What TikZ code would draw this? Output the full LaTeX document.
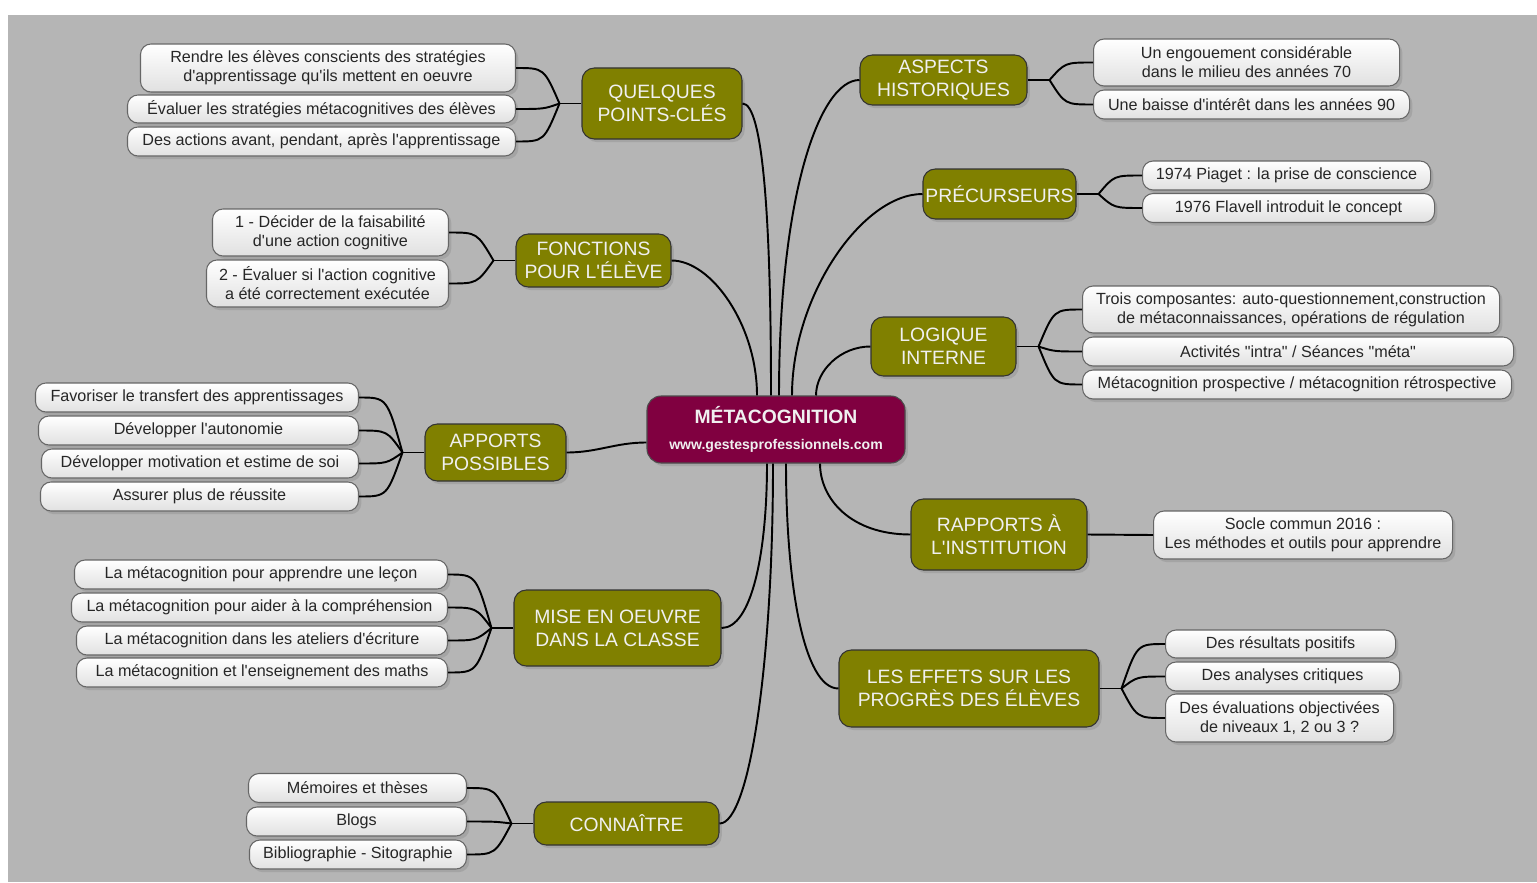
\documentclass[tikz,border=0pt]{standalone}
\usepackage{fontspec}
\setmainfont{Liberation Sans}[Ligatures=TeXOff]
\usetikzlibrary{shadows,calc}
\definecolor{olivebr}{RGB}{128,128,0}
\definecolor{metac}{RGB}{128,0,64}
\definecolor{fondgris}{RGB}{181,181,181}
\newcommand\pxu{0.02cm}
\tikzset{
	feuille/.style={draw=black!60, line width=.6pt, rounded corners=6pt, top color=white, bottom color=black!12, align=center, inner sep=1pt, text=black!85, font=\fontsize{9.2}{10.8}\selectfont, drop shadow={shadow xshift=1.6pt, shadow yshift=-1.8pt, opacity=.3}},
	branche/.style={draw=black!80, line width=.6pt, fill=olivebr, text=white!94!black, rounded corners=7pt, align=center, inner sep=1pt, font=\fontsize{11}{13.1}\selectfont, drop shadow={shadow xshift=1.6pt, shadow yshift=-1.8pt, opacity=.3}},
	centre/.style={draw=black!70, line width=.6pt, fill=metac, text=white!94!black, rounded corners=8pt, align=center, inner sep=1pt, font=\bfseries, drop shadow={shadow xshift=1.6pt, shadow yshift=-1.8pt, opacity=.3}},
	lien/.style={line width=1.1pt, black}
}
\begin{document}
\begin{tikzpicture}[x=\pxu, y=-\pxu]
	\useasboundingbox (0,0) rectangle (1537,882);
	\fill[white] (0,0) rectangle (1537,882);
	\fill[fondgris] (8,15) rectangle (1537,882);
	\node[centre, minimum width=258*\pxu, minimum height=67*\pxu] (meta) at (776,429.5) {\fontsize{11}{13}\selectfont MÉTACOGNITION\\[3pt]\fontsize{8}{10}\selectfont www.gestesprofessionnels.com};
	\node[branche, minimum width=160*\pxu, minimum height=71*\pxu] (qpc) at (662,103.5) {QUELQUES\\POINTS-CLÉS};
	\node[branche, minimum width=155*\pxu, minimum height=53*\pxu] (fct) at (593.5,260.5) {FONCTIONS\\POUR L'ÉLÈVE};
	\node[branche, minimum width=141*\pxu, minimum height=57*\pxu] (app) at (495.5,452.5) {APPORTS\\POSSIBLES};
	\node[branche, minimum width=207*\pxu, minimum height=76*\pxu] (mis) at (617.5,628) {MISE EN OEUVRE\\DANS LA CLASSE};
	\node[branche, minimum width=185*\pxu, minimum height=43*\pxu] (con) at (626.5,823.5) {CONNAÎTRE};
	\node[branche, minimum width=167*\pxu, minimum height=50*\pxu] (asp) at (943.5,80) {ASPECTS\\HISTORIQUES};
	\node[branche, minimum width=153*\pxu, minimum height=50*\pxu] (pre) at (999.5,194) {PRÉCURSEURS};
	\node[branche, minimum width=145*\pxu, minimum height=59*\pxu] (log) at (943.5,346.5) {LOGIQUE\\INTERNE};
	\node[branche, minimum width=176*\pxu, minimum height=71*\pxu] (rap) at (999,534.5) {RAPPORTS À\\L'INSTITUTION};
	\node[branche, minimum width=260*\pxu, minimum height=77*\pxu] (eff) at (969,688.5) {LES EFFETS SUR LES\\PROGRÈS DES ÉLÈVES};
	\foreach \t/\w/\y/\h [count=\i] in {{Rendre les élèves conscients des stratégies\\d'apprentissage qu'ils mettent en oeuvre}/375/68/48, {Évaluer les stratégies métacognitives des élèves}/388/109/28, {Des actions avant, pendant, après l'apprentissage}/388/141.5/29}
		{\node[feuille, anchor=east, minimum width=\w*\pxu, minimum height=\h*\pxu] (qpc\i) at (516,\y) {\t};}
	\foreach \t/\w/\y/\h [count=\i] in {{1 - Décider de la faisabilité\\d'une action cognitive}/236/232.5/47, {2 - Évaluer si l'action cognitive\\a été correctement exécutée}/242/283.5/47}
		{\node[feuille, anchor=east, minimum width=\w*\pxu, minimum height=\h*\pxu] (fct\i) at (449,\y) {\t};}
	\foreach \t/\w/\y [count=\i] in {{Favoriser le transfert des apprentissages}/323/397.5, {Développer l'autonomie}/320/430.5, {Développer motivation et estime de soi}/317/463.5, {Assurer plus de réussite}/318/496.5}
		{\node[feuille, anchor=east, minimum width=\w*\pxu, minimum height=29*\pxu] (app\i) at (359,\y) {\t};}
	\foreach \t/\w/\y [count=\i] in {{La métacognition pour apprendre une leçon}/373/574.5, {La métacognition pour aider à la compréhension}/376/607.5, {La métacognition dans les ateliers d'écriture}/371/640.5, {La métacognition et l'enseignement des maths}/371/672.5}
		{\node[feuille, anchor=east, minimum width=\w*\pxu, minimum height=29*\pxu] (mis\i) at (448,\y) {\t};}
	\foreach \t/\w/\y [count=\i] in {{Mémoires et thèses}/218/788, {Blogs}/220/821.5, {Bibliographie - Sitographie}/217/854.5}
		{\node[feuille, anchor=east, minimum width=\w*\pxu, minimum height=29*\pxu] (con\i) at (467,\y) {\t};}
	\foreach \t/\w/\y/\h [count=\i] in {{Un engouement considérable\\dans le milieu des années 70}/306/62.5/47, {Une baisse d'intérêt dans les années 90}/316/104.5/29}
		{\node[feuille, anchor=west, minimum width=\w*\pxu, minimum height=\h*\pxu] (asp\i) at (1093,\y) {\t};}
	\foreach \t/\w/\y [count=\i] in {{1974 Piaget : la prise de conscience}/288/175.5, {1976 Flavell introduit le concept}/292/208}
		{\node[feuille, anchor=west, minimum width=\w*\pxu, minimum height=29*\pxu] (pre\i) at (1142,\y) {\t};}
	\foreach \t/\w/\y/\h [count=\i] in {{Trois composantes: auto-questionnement,construction\\de métaconnaissances, opérations de régulation}/417/309.5/47, {Activités "intra" / Séances "méta"}/431/351.5/29, {Métacognition prospective / métacognition rétrospective}/429/384.5/29}
		{\node[feuille, anchor=west, minimum width=\w*\pxu, minimum height=\h*\pxu] (log\i) at (1082,\y) {\t};}
	\node[feuille, anchor=west, minimum width=299*\pxu, minimum height=48*\pxu] (rap1) at (1153,535) {Socle commun 2016 :\\Les méthodes et outils pour apprendre};
	\foreach \t/\w/\y/\h [count=\i] in {{Des résultats positifs}/230/644/28, {Des analyses critiques}/234/676.5/29, {Des évaluations objectivées\\de niveaux 1, 2 ou 3 ?}/228/718/48}
		{\node[feuille, anchor=west, minimum width=\w*\pxu, minimum height=\h*\pxu] (eff\i) at (1165,\y) {\t};}
	\foreach \b/\n in {qpc/3,fct/2,app/4,mis/4,con/3} {
		\draw[lien] (\b.west) -- ++(-22,0) coordinate (f\b);
		\foreach \i in {1,...,\n} \draw[lien] (\b\i.east) .. controls +(28,0) .. (f\b);
	}
	\foreach \b/\n in {asp/2,pre/2,log/3,eff/3} {
		\draw[lien] (\b.east) -- ++(22,0) coordinate (f\b);
		\foreach \i in {1,...,\n} \draw[lien] (\b\i.west) .. controls +(-28,0) .. (f\b);
	}
	\draw[lien] (rap.east) -- (rap1.west);
	\draw[lien] (fct.east) .. controls +(40,0) and +(0,-70) .. ($(meta.north)+(-19,0)$);
	\draw[lien] (qpc.east) .. controls +(20,0) and +(0,-180) .. ($(meta.north)+(-5,0)$);
	\draw[lien] (asp.west) .. controls +(-40,0) and +(0,-200) .. ($(meta.north)+(3,0)$);
	\draw[lien] (pre.west) .. controls +(-60,0) and +(0,-100) .. ($(meta.north)+(16,0)$);
	\draw[lien] (log.west) .. controls +(-30,0) and +(0,-25) .. ($(meta.north)+(40,0)$);
	\draw[lien] (app.east) to[out=0, in=180] ($(meta.west)+(0,13)$);
	\draw[lien] (mis.east) .. controls +(30,0) and +(0,90) .. ($(meta.south)+(-9,0)$);
	\draw[lien] (con.east) .. controls +(30,0) and +(0,200) .. ($(meta.south)+(-3,0)$);
	\draw[lien] (eff.west) .. controls +(-35,0) and +(0,120) .. ($(meta.south)+(10,0)$);
	\draw[lien] (rap.west) .. controls +(-60,0) and +(0,35) .. ($(meta.south)+(44,0)$);
\end{tikzpicture}
\end{document}
